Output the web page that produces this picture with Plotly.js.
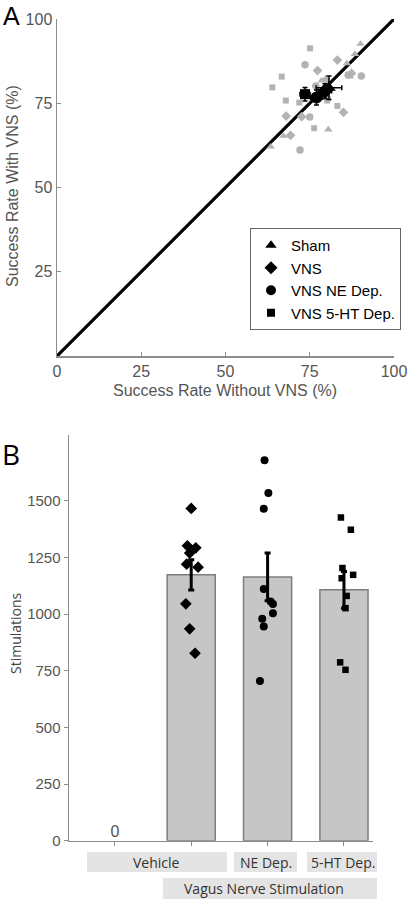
<!DOCTYPE html>
<html>
<head>
<meta charset="utf-8">
<script src="https://cdn.plot.ly/plotly-3.0.1.min.js"></script>
<style>html,body{margin:0;padding:0;background:#fff;}#chart{width:409px;height:900px;}</style>
</head>
<body>
<div id="chart"></div>
<script>
// ---------- Panel A data (success rate, %) ----------
var groupNames = ['Sham', 'VNS', 'VNS NE Dep.', 'VNS 5-HT Dep.'];
var groupSymbols = ['triangle-up', 'diamond', 'circle', 'square'];

var shamWithoutX = [90.1, 88.4, 86.9, 80.5, 67.2, 63.4, 78.5, 86.0];
var shamWithY    = [92.6, 89.6, 82.9, 67.2, 65.3, 62.1, 81.7, 86.8];
var vnsWithoutX  = [83.2, 77.3, 85.0, 68.0, 72.6, 69.3, 87.4, 79.8];
var vnsWithY     = [87.8, 84.7, 72.3, 71.2, 71.0, 65.5, 83.9, 81.9];
var neWithoutX   = [73.6, 90.3, 75.0, 72.1, 76.8, 86.4, 80.2];
var neWithY      = [86.4, 83.1, 70.9, 61.1, 80.1, 83.4, 76.5];
var htWithoutX   = [75.1, 66.7, 63.9, 67.9, 71.9, 76.3, 83.2, 80.2];
var htWithY      = [91.3, 82.9, 79.7, 75.8, 75.2, 67.6, 74.2, 75.8];

var meanWithoutX = [80.7, 79.5, 77.0, 73.6];
var meanWithY    = [79.6, 78.6, 76.7, 77.7];
var semWithoutX  = [3.8, 2.0, 1.8, 1.5];
var semWithY     = [3.5, 2.2, 2.2, 2.0];

var identityX = [0, 100];
var identityY = [0, 100];

// ---------- Panel B data (stimulations) ----------
var categories = ['Vehicle', 'VNS', 'NE Dep.', '5-HT Dep.'];
var barValues  = [0, 1173, 1164, 1107];
var barSem     = [0, 67, 105, 81];

var vnsStims    = [1466, 1301, 1292, 1269, 1220, 1207, 1045, 935, 827];
var vnsJitter   = [0.0, -0.05, 0.06, -0.02, -0.06, 0.09, -0.07, -0.02, 0.05];
var neStims     = [1679, 1534, 1465, 1111, 1055, 1044, 1004, 979, 945, 705];
var neJitter    = [-0.04, 0.01, -0.05, -0.05, 0.04, 0.07, 0.07, -0.07, -0.05, -0.1];
var htStims     = [1426, 1372, 1203, 1158, 1173, 1080, 1026, 787, 754];
var htJitter    = [-0.04, 0.09, -0.02, -0.03, 0.12, 0.035, 0.02, -0.05, 0.02];

var yTicksB = [0, 250, 500, 750, 1000, 1250, 1500];

// ---------- build traces ----------
var GRAY_PT = '#b3b3b3';
var AX = '#8c8c8c';
var TXT = '#555555';
var ARIAL = '"Liberation Sans", Arial, sans-serif';
var MYR = '"Open Sans", "Noto Sans", sans-serif';

function draw() {
  var indX = [shamWithoutX, vnsWithoutX, neWithoutX, htWithoutX];
  var indY = [shamWithY, vnsWithY, neWithY, htWithY];
  var traces = [];

  traces.push({x: identityX, y: identityY, mode: 'lines', line: {color: '#000', width: 3.2},
    showlegend: false, hoverinfo: 'skip', xaxis: 'x', yaxis: 'y'});

  for (var g = 0; g < 4; g++) {
    traces.push({x: indX[g], y: indY[g], mode: 'markers', showlegend: false,
      marker: {symbol: groupSymbols[g], color: GRAY_PT, size: g === 3 ? 6 : 7.5},
      xaxis: 'x', yaxis: 'y'});
  }
  for (var g2 = 3; g2 >= 0; g2--) {
    traces.push({x: [meanWithoutX[g2]], y: [meanWithY[g2]], mode: 'markers', name: groupNames[g2],
      showlegend: false,
      marker: {symbol: groupSymbols[g2], color: '#000', size: g2 === 3 ? 10 : 12},
      error_x: {type: 'data', array: [semWithoutX[g2]], color: '#000', thickness: 1.5, width: 2.5},
      error_y: {type: 'data', array: [semWithY[g2]], color: '#000', thickness: 1.5, width: 2.5},
      xaxis: 'x', yaxis: 'y'});
  }
  for (var g3 = 0; g3 < 4; g3++) {
    traces.push({x: [null], y: [null], mode: 'markers', name: groupNames[g3], showlegend: true,
      marker: {symbol: groupSymbols[g3], color: '#000', size: g3 === 3 ? 8 : 10},
      xaxis: 'x', yaxis: 'y'});
  }

  var barX = [], barY = [], barE = [];
  for (var i = 0; i < categories.length; i++) {
    if (barValues[i] > 0) { barX.push(i); barY.push(barValues[i]); barE.push(barSem[i]); }
  }
  traces.push({type: 'bar', x: barX, y: barY, width: 0.63, showlegend: false,
    marker: {color: '#c6c6c6', line: {color: '#7d7d7d', width: 1.5}},
    xaxis: 'x2', yaxis: 'y2', hoverinfo: 'skip'});
  traces.push({x: barX, y: barY, mode: 'markers', marker: {size: 0.1, color: 'rgba(0,0,0,0)'},
    error_y: {type: 'data', array: barE, color: '#000', thickness: 3, width: 3},
    showlegend: false, xaxis: 'x2', yaxis: 'y2'});

  traces.push({x: [0], y: [barValues[0]], mode: 'text', text: [String(barValues[0])],
    textposition: 'top center', textfont: {family: ARIAL, size: 16, color: TXT},
    showlegend: false, xaxis: 'x2', yaxis: 'y2'});

  function jit(base, arr) { return arr.map(function (d) { return base + d; }); }
  var ptSets = [[1, vnsStims, vnsJitter, 'diamond', 9], [2, neStims, neJitter, 'circle', 8], [3, htStims, htJitter, 'square', 6.5]];
  ptSets.forEach(function (s) {
    traces.push({x: jit(s[0], s[2]), y: s[1], mode: 'markers', showlegend: false,
      marker: {symbol: s[3], color: '#000', size: s[4]}, xaxis: 'x2', yaxis: 'y2'});
  });

  function PX(px) { return px / 409; }
  function PY(py) { return 1 - py / 900; }

  var shapes = [];
  function box(x0, x1, y0, y1) {
    shapes.push({type: 'rect', xref: 'paper', yref: 'paper', x0: PX(x0), x1: PX(x1), y0: PY(y1), y1: PY(y0),
      fillcolor: '#e4e4e4', line: {width: 0}, layer: 'below'});
  }
  box(87, 227, 852, 872);
  box(234, 297, 852, 872);
  box(307, 377, 852, 872);
  box(163, 377, 878, 899);

  function ann(text, x, y, font, extra) {
    var a = {text: text, x: PX(x), y: PY(y), xref: 'paper', yref: 'paper', showarrow: false,
      xanchor: 'center', yanchor: 'middle', font: font};
    if (extra) { for (var k in extra) a[k] = extra[k]; }
    return a;
  }
  var labFont = {family: MYR, size: 14, color: '#333'};
  var annotations = [
    ann('A', 1, 0, {family: ARIAL, size: 25, color: '#000'}, {xanchor: 'left', yanchor: 'top'}),
    ann('B', 0, 433, {family: MYR, size: 28, color: '#000'}, {xanchor: 'left', yanchor: 'top'}),
    ann('Success Rate Without VNS (%)', 225, 390, {family: ARIAL, size: 16, color: TXT}),
    ann('Success Rate With VNS (%)', 12, 186, {family: ARIAL, size: 16, color: TXT}, {textangle: -90}),
    ann('Stimulations', 15, 633, {family: MYR, size: 14, color: '#444'}, {textangle: -90}),
    ann(categories[0], 156, 862, labFont),
    ann(categories[2], 266, 862, labFont),
    ann(categories[3], 343, 862, labFont),
    ann('Vagus Nerve Stimulation', 264, 888, labFont)
  ];

  var layout = {
    width: 409, height: 900, autosize: false,
    margin: {l: 0, r: 0, t: 0, b: 0, pad: 0},
    paper_bgcolor: '#fff', plot_bgcolor: 'rgba(0,0,0,0)',
    showlegend: true,
    legend: {x: PX(250), y: PY(228), xanchor: 'left', yanchor: 'top', bgcolor: '#fff',
      bordercolor: '#666', borderwidth: 1, font: {family: ARIAL, size: 15, color: '#000'},
      itemwidth: 30, tracegroupgap: 0},
    xaxis: {domain: [PX(57), PX(394)], range: [0, 100], tickvals: [0, 25, 50, 75, 100],
      ticks: 'inside', ticklen: 4, tickcolor: AX, showline: true, linecolor: AX, linewidth: 1.5,
      showgrid: false, zeroline: false, tickfont: {family: ARIAL, size: 16, color: TXT}, anchor: 'y',
      fixedrange: true},
    yaxis: {domain: [PY(356), PY(19)], range: [0, 100], tickvals: [25, 50, 75, 100],
      ticks: 'inside', ticklen: 4, tickcolor: AX, showline: true, linecolor: AX, linewidth: 1.5,
      showgrid: false, zeroline: false, tickfont: {family: ARIAL, size: 16, color: TXT}, anchor: 'x',
      fixedrange: true},
    xaxis2: {domain: [PX(69), PX(373)], range: [-0.6, 3.38], tickvals: [0, 1, 2, 3], ticktext: ['', '', '', ''],
      ticks: 'outside', ticklen: 4, tickcolor: AX, showline: true, linecolor: AX, linewidth: 1.5,
      showgrid: false, zeroline: false, anchor: 'y2', fixedrange: true},
    yaxis2: {domain: [PY(840.7), PY(435)], range: [0, 1790], tickvals: yTicksB,
      ticks: 'outside', ticklen: 4, tickcolor: AX, showline: true, linecolor: AX, linewidth: 1.5,
      showgrid: false, zeroline: false, tickfont: {family: ARIAL, size: 15, color: TXT}, anchor: 'x2',
      fixedrange: true},
    shapes: shapes,
    annotations: annotations
  };

  Plotly.newPlot('chart', traces, layout, {staticPlot: true, displayModeBar: false});
}

var fontLoads = [];
if (document.fonts && document.fonts.load) {
  fontLoads.push(document.fonts.load('14px "Open Sans"'));
  fontLoads.push(document.fonts.load('28px "Open Sans"'));
  fontLoads.push(document.fonts.load('16px "Liberation Sans"'));
  Promise.all(fontLoads).then(draw, draw);
} else {
  draw();
}
</script>
</body>
</html>
